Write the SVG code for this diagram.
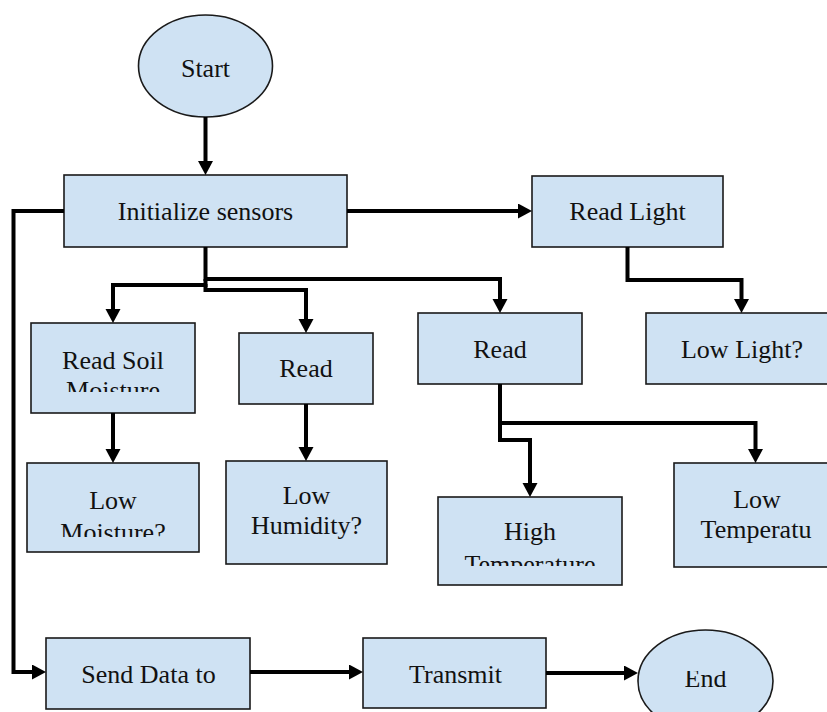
<svg xmlns="http://www.w3.org/2000/svg" width="827" height="712" viewBox="0 0 827 712">
<style>
  .node { fill: #cfe2f3; stroke: #1a1a1a; stroke-width: 1.6; }
  .lbl { font-family: "Liberation Serif", "Times New Roman", serif; font-size: 26px; fill: #111; text-anchor: middle; }
  .conn { fill: none; stroke: #000; stroke-width: 4; stroke-linejoin: miter; marker-end: url(#arrow); }
</style>
<defs>
  <marker id="arrow" markerUnits="userSpaceOnUse" markerWidth="16" markerHeight="16" refX="2" refY="7.5" orient="auto">
    <path d="M0,0 L14,7.5 L0,15 z" fill="#000"/>
  </marker>
  <clipPath id="cSoil" clipPathUnits="userSpaceOnUse"><rect x="31" y="323" width="164" height="69"/></clipPath>
  <clipPath id="cLowMoist" clipPathUnits="userSpaceOnUse"><rect x="27" y="463" width="172" height="74"/></clipPath>
  <clipPath id="cHigh" clipPathUnits="userSpaceOnUse"><rect x="438" y="497" width="184" height="69"/></clipPath>
  <clipPath id="cEnd" clipPathUnits="userSpaceOnUse"><rect x="638" y="671" width="136" height="41"/></clipPath>
</defs>
<rect width="827" height="712" fill="#ffffff"/>

<g id="start">
  <ellipse class="node" cx="205.5" cy="66" rx="67" ry="51"/>
  <text class="lbl" x="205.5" y="77">Start</text>
</g>
<g id="init">
  <rect class="node" x="64" y="175" width="283" height="72"/>
  <text class="lbl" x="205.5" y="220">Initialize sensors</text>
</g>
<g id="readLight">
  <rect class="node" x="532" y="176" width="191" height="71"/>
  <text class="lbl" x="627.5" y="220">Read Light</text>
</g>
<g id="lowLight">
  <rect class="node" x="646" y="313" width="194" height="71"/>
  <text class="lbl" x="742" y="358">Low Light?</text>
</g>
<g id="readSoil">
  <rect class="node" x="31" y="323" width="164" height="90"/>
  <g clip-path="url(#cSoil)">
    <text class="lbl" x="113" y="369">Read Soil</text>
    <text class="lbl" x="113" y="399">Moisture</text>
  </g>
</g>
<g id="readHumidity">
  <rect class="node" x="239" y="333" width="134" height="71"/>
  <text class="lbl" x="306" y="377">Read</text>
</g>
<g id="readTemp">
  <rect class="node" x="418" y="313" width="164" height="71"/>
  <text class="lbl" x="500" y="358">Read</text>
</g>
<g id="lowMoisture">
  <rect class="node" x="27" y="463" width="172" height="89"/>
  <g clip-path="url(#cLowMoist)">
    <text class="lbl" x="113" y="509">Low</text>
    <text class="lbl" x="113" y="541">Moisture?</text>
  </g>
</g>
<g id="lowHumidity">
  <rect class="node" x="226" y="461" width="161" height="103"/>
  <text class="lbl" x="306.5" y="504">Low</text>
  <text class="lbl" x="306.5" y="534">Humidity?</text>
</g>
<g id="highTemp">
  <rect class="node" x="438" y="497" width="184" height="88"/>
  <g clip-path="url(#cHigh)">
    <text class="lbl" x="530" y="540">High</text>
    <text class="lbl" x="530" y="573">Temperature</text>
  </g>
</g>
<g id="lowTemp">
  <rect class="node" x="674" y="463" width="166" height="104"/>
  <text class="lbl" x="757" y="508">Low</text>
  <text class="lbl" x="756" y="538">Temperatu</text>
</g>
<g id="sendData">
  <rect class="node" x="46" y="638" width="204" height="71"/>
  <text class="lbl" x="148.5" y="683">Send Data to</text>
</g>
<g id="transmit">
  <rect class="node" x="363" y="638" width="183" height="70"/>
  <text class="lbl" x="455.5" y="683">Transmit</text>
</g>
<g id="end">
  <ellipse class="node" cx="705.5" cy="681" rx="67.5" ry="51"/>
  <g clip-path="url(#cEnd)">
    <text class="lbl" x="705.5" y="687">End</text>
  </g>
</g>

<g id="connectors">
  <path class="conn" d="M205.5,117 V163"/>
  <path class="conn" d="M347,211 H520"/>
  <path class="conn" d="M627.5,247 V280 H741.5 V301"/>
  <path class="conn" d="M205.5,247 V279 H500 V301"/>
  <path class="conn" d="M205.5,279 V285 H113 V311"/>
  <path class="conn" d="M205.5,284 V290 H306 V321"/>
  <path class="conn" d="M113,413 V451"/>
  <path class="conn" d="M306,404 V449"/>
  <path class="conn" d="M500,384 V423 H755.5 V451"/>
  <path class="conn" d="M500,423 V440 H530 V485"/>
  <path class="conn" d="M64,211 H13.5 V672 H34"/>
  <path class="conn" d="M250,672 H351"/>
  <path class="conn" d="M546,673 H626"/>
</g>
</svg>
